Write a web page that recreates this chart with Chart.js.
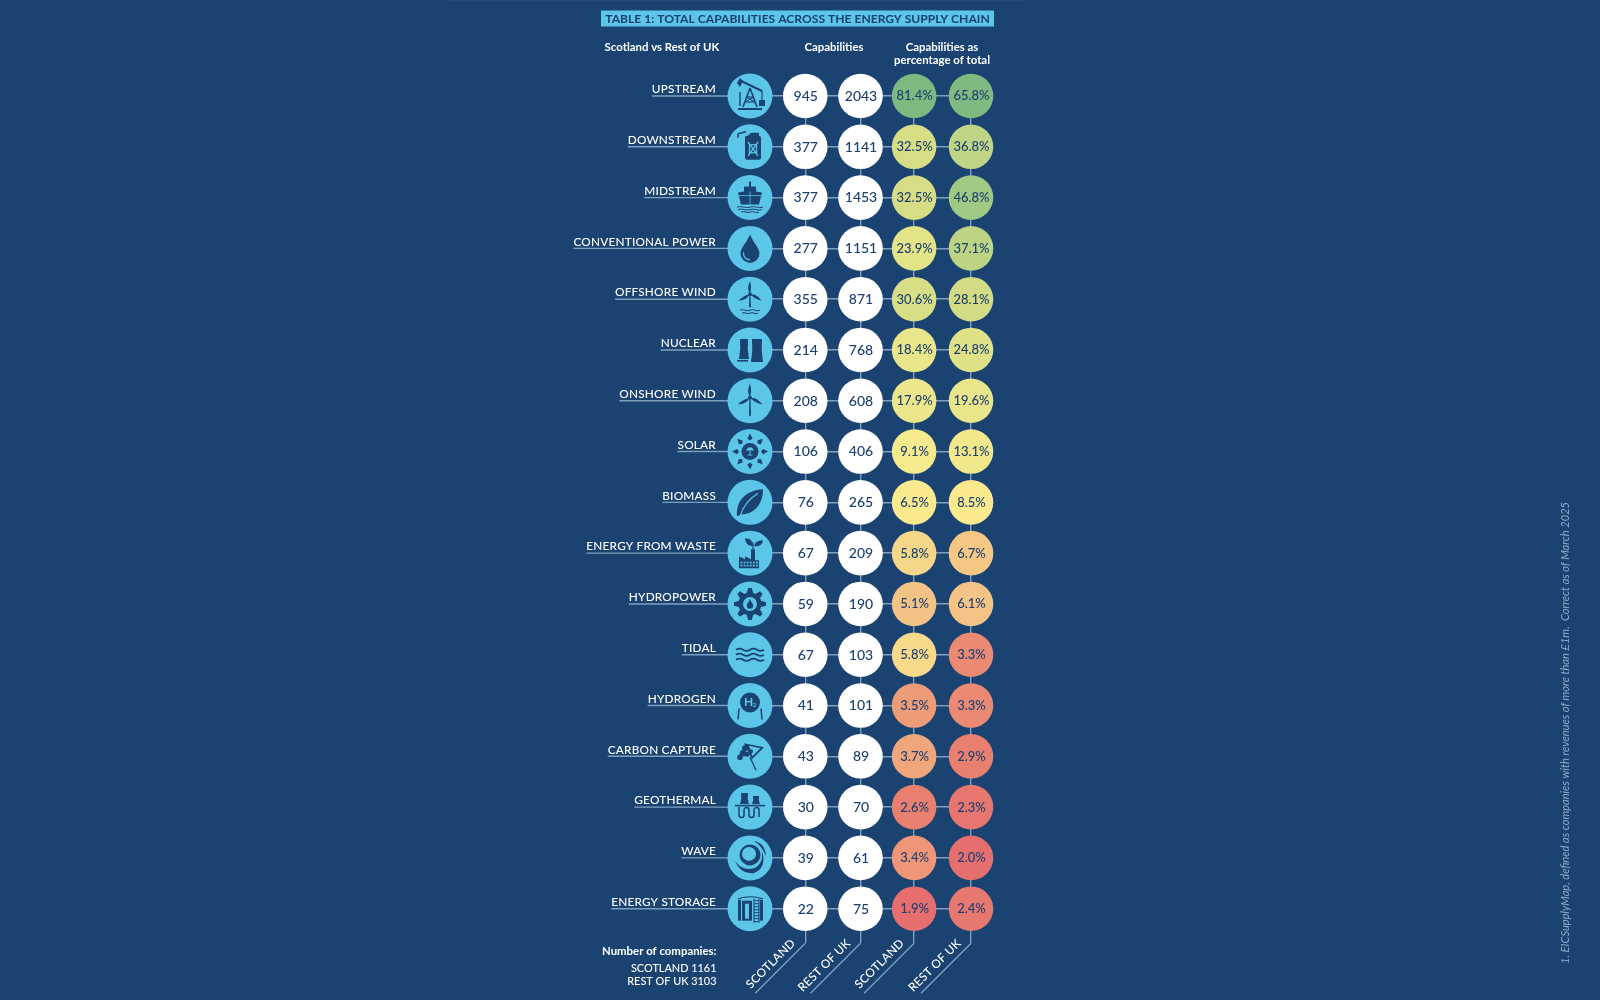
<!DOCTYPE html>
<html>
<head>
<meta charset="utf-8">
<title>Total capabilities across the energy supply chain</title>
<script src="https://cdn.jsdelivr.net/npm/chart.js@4/dist/chart.umd.js"></script>
<style>
  html, body { margin: 0; padding: 0; background: #1a4371; }
  canvas { display: block; }
</style>
</head>
<body>
<canvas id="chart" width="1600" height="1000"></canvas>
<script>
// ===============================
// DATA
// ===============================

const sectors = [
  "UPSTREAM", "DOWNSTREAM", "MIDSTREAM", "CONVENTIONAL POWER", "OFFSHORE WIND",
  "NUCLEAR", "ONSHORE WIND", "SOLAR", "BIOMASS", "ENERGY FROM WASTE",
  "HYDROPOWER", "TIDAL", "HYDROGEN", "CARBON CAPTURE", "GEOTHERMAL",
  "WAVE", "ENERGY STORAGE"
];

const columnTitles = ["", "SCOTLAND", "REST OF UK", "SCOTLAND", "REST OF UK"];

const scotlandCount = [945, 377, 377, 277, 355, 214, 208, 106, 76, 67, 59, 67, 41, 43, 30, 39, 22];
const restCount = [2043, 1141, 1453, 1151, 871, 768, 608, 406, 265, 209, 190, 103, 101, 89, 70, 61, 75];
const scotlandPct = [81.4, 32.5, 32.5, 23.9, 30.6, 18.4, 17.9, 9.1, 6.5, 5.8, 5.1, 5.8, 3.5, 3.7, 2.6, 3.4, 1.9];
const restPct = [65.8, 36.8, 46.8, 37.1, 28.1, 24.8, 19.6, 13.1, 8.5, 6.7, 6.1, 3.3, 3.3, 2.9, 2.3, 2.0, 2.4];

const scotlandPctColors = [
  "#7dba80", "#d6dd85", "#d6dd85", "#e3e388", "#d8de85", "#e9e58a", "#ebe68b", "#f6ea8e", "#fbe98e",
  "#f6d688", "#f2c384", "#f8da8a", "#ee9b77", "#f0a67b", "#e9806f", "#ee9677", "#e66e6e"
];
const restPctColors = [
  "#7fbb81", "#bfd585", "#a0ca83", "#bcd484", "#d3dc85", "#dfe187", "#e9e58a", "#f1e88c", "#fbe98e",
  "#f5c785", "#f3c485", "#ea8a72", "#ea8a72", "#e97f6f", "#e6766f", "#e56f6e", "#e7786f"
];

const titleText = "TABLE 1: TOTAL CAPABILITIES ACROSS THE ENERGY SUPPLY CHAIN";
const footnote = "1. EICSupplyMap, defined as companies with revenues of more than £1m.  Correct as of March 2025";

// ===============================
// CONFIG
// ===============================

const bg = "#1a4371";
const sky = "#5bc6e8";
const ink = "#1b3f6f";
const lineColor = "#7f9fbf";
const fontName = "Lato, 'Open Sans', sans-serif";

// the columns are not quite evenly spaced in the table
const columnSpots = [0, 1, 2, 2.97, 4];

const tickDrop = 34.6;

function columnPoints(col) {
  return sectors.map(name => ({ x: columnSpots[col], y: name }));
}

// ===============================
// ICONS
// ===============================

function poly(c, pts) {
  c.beginPath();
  pts.forEach((p, i) => i ? c.lineTo(p[0], p[1]) : c.moveTo(p[0], p[1]));
  c.closePath();
  c.fill();
}

function seg(c, x1, y1, x2, y2, w) {
  c.lineWidth = w;
  c.beginPath();
  c.moveTo(x1, y1);
  c.lineTo(x2, y2);
  c.stroke();
}

function dot(c, x, y, r) {
  c.beginPath();
  c.arc(x, y, r, 0, Math.PI * 2);
  c.fill();
}

function wave(c, x1, x2, y, amp, w) {
  const step = (x2 - x1) / 4;
  c.lineWidth = w;
  c.beginPath();
  c.moveTo(x1, y);
  for (let i = 0; i < 4; i++) {
    const dir = i % 2 ? 1 : -1;
    c.quadraticCurveTo(x1 + step * (i + 0.5), y + dir * amp, x1 + step * (i + 1), y);
  }
  c.stroke();
}

function blade(c, hy, len, angle) {
  c.save();
  c.translate(0, hy);
  c.rotate(angle);
  c.beginPath();
  c.moveTo(0, -1);
  c.bezierCurveTo(-3.2, -len * 0.35, -1.6, -len * 0.75, 0, -len);
  c.bezierCurveTo(1.2, -len * 0.7, 1.6, -len * 0.35, 0, -1);
  c.fill();
  c.restore();
}

function turbine(c, hy, len, bottom) {
  blade(c, hy, len, 0);
  blade(c, hy, len, Math.PI * 0.66);
  blade(c, hy, len, -Math.PI * 0.66);
  poly(c, [[-0.6, hy + 2], [0.6, hy + 2], [1, bottom], [-1, bottom]]);
  dot(c, 0, hy, 2);
}

function coolingTower(c, x, top, w, bottom) {
  c.beginPath();
  c.moveTo(x + 1, top);
  c.lineTo(x + w - 1, top);
  c.quadraticCurveTo(x + w - 2, (top + bottom) / 2, x + w, bottom);
  c.lineTo(x, bottom);
  c.quadraticCurveTo(x + 2, (top + bottom) / 2, x + 1, top);
  c.fill();
}

const iconDrawers = [
  // upstream
  c => {
    seg(c, -11, -16, 12, -5, 2);
    poly(c, [[-13, -13], [-10, -18], [-7, -15], [-10, -9]]);
    seg(c, 0, -8, -7, 11, 1.6);
    seg(c, 0, -8, 7, 11, 1.6);
    seg(c, -4, 1, 4, 1, 1.2);
    seg(c, -5, 6, 5, 6, 1.2);
    seg(c, -4, 1, 5, 6, 1);
    seg(c, 4, 1, -5, 6, 1);
    seg(c, -12, 13, 12, 13, 2);
    seg(c, -10, -4, -10, 10, 1.4);
    seg(c, 12, -5, 12, 4, 1.2);
    c.fillRect(9, 4, 6, 6);
  },
  // downstream
  c => {
    c.beginPath();
    c.roundRect(-5, -11, 16, 24, 2);
    c.fill();
    poly(c, [[-5, -8], [1, -14], [9, -14], [9, -11], [-5, -7]]);
    seg(c, -12, -13, -4, -15, 1.5);
    seg(c, -12, -13, -12, -9, 1.5);
    c.strokeStyle = sky;
    seg(c, -2, -5, 8, 9, 1.3);
    seg(c, 8, -5, -2, 9, 1.3);
    c.strokeRect(-0.5, -2, 7, 8);
  },
  // midstream
  c => {
    c.fillRect(-1, -16, 2, 6);
    c.fillRect(-6, -11, 12, 6);
    poly(c, [[-12, -5], [0, -7], [12, -5], [9, 7], [-9, 7]]);
    c.strokeStyle = sky;
    seg(c, 0, -6, 0, 7, 0.8);
    seg(c, -11, -2, 11, -2, 0.8);
    c.strokeStyle = bg;
    wave(c, -13, 13, 9.5, 1, 1);
    wave(c, -12, 12, 12, 1, 1);
    wave(c, -9, 9, 14.5, 1, 1);
  },
  // conventional power
  c => {
    c.beginPath();
    c.moveTo(0, -14);
    c.bezierCurveTo(3, -6, 9.5, -1, 9.5, 5);
    c.arc(0, 5, 9.5, 0, Math.PI);
    c.bezierCurveTo(-9.5, -1, -3, -6, 0, -14);
    c.fill();
    c.strokeStyle = sky;
    c.lineWidth = 1.2;
    c.beginPath();
    c.arc(0, 5, 6.5, Math.PI * 0.5, Math.PI * 1.05);
    c.stroke();
  },
  // offshore wind
  c => {
    turbine(c, -5, 13, 8);
    wave(c, -10, 10, 11, 1.2, 1);
    wave(c, -8, 8, 14, 1.2, 1);
  },
  // nuclear
  c => {
    coolingTower(c, -11, -11, 10, 9);
    coolingTower(c, 1, -11, 12, 12);
    c.fillRect(-13, 10, 11, 1.6);
  },
  // onshore wind
  c => {
    turbine(c, -3, 14, 15);
  },
  // solar
  c => {
    for (let i = 0; i < 8; i++) {
      c.save();
      c.rotate(i * Math.PI / 4);
      poly(c, [[-2.6, -13], [0, -18], [2.6, -13], [0, -11]]);
      c.restore();
    }
    dot(c, 0, 0, 8.5);
    c.fillStyle = sky;
    poly(c, [[-4, -1], [-2, -4], [2, -4], [4, -1]]);
    c.fillRect(-0.5, -1, 1, 4);
    c.fillRect(-2.5, 3, 5, 1);
  },
  // biomass
  c => {
    c.beginPath();
    c.moveTo(-13, 14);
    c.bezierCurveTo(-14, -2, -4, -12, 13, -13);
    c.bezierCurveTo(13, 2, 4, 12, -8, 12);
    c.closePath();
    c.fill();
    c.strokeStyle = sky;
    c.lineWidth = 1.2;
    c.beginPath();
    c.moveTo(-10, 14);
    c.quadraticCurveTo(-6, 0, 8, -9);
    c.stroke();
  },
  // energy from waste
  c => {
    poly(c, [[-11, 15], [-11, 3], [-5, 6], [-5, 3], [1, 6], [1, -4], [5, -4], [5, 7], [9, 7], [9, 15]]);
    seg(c, 3, -4, 3, -11, 1.2);
    c.beginPath();
    c.moveTo(3, -7);
    c.quadraticCurveTo(-5, -8, -5, -15);
    c.quadraticCurveTo(3, -15, 3, -7);
    c.fill();
    c.beginPath();
    c.moveTo(4, -7);
    c.quadraticCurveTo(5, -13, 13, -13);
    c.quadraticCurveTo(12, -6, 4, -7);
    c.fill();
    c.fillStyle = sky;
    for (let r = 0; r < 2; r++) {
      for (let k = 0; k < 6; k++) {
        c.fillRect(-9.5 + k * 3.1, 8.5 + r * 3, 1.8, 1.8);
      }
    }
  },
  // hydropower
  c => {
    for (let i = 0; i < 8; i++) {
      c.save();
      c.rotate(i * Math.PI / 4);
      poly(c, [[-3.4, -10], [-1.8, -16], [1.8, -16], [3.4, -10]]);
      c.restore();
    }
    dot(c, 0, 0, 11.5);
    c.fillStyle = sky;
    dot(c, 0, 0, 7);
    c.fillStyle = bg;
    c.beginPath();
    c.moveTo(0, -5);
    c.bezierCurveTo(1, -2, 3.2, -0.5, 3.2, 1.5);
    c.arc(0, 1.5, 3.2, 0, Math.PI);
    c.bezierCurveTo(-3.2, -0.5, -1, -2, 0, -5);
    c.fill();
  },
  // tidal
  c => {
    wave(c, -14, 14, -5, 2.2, 1.8);
    wave(c, -14, 14, 0, 2.2, 1.8);
    wave(c, -14, 14, 5, 2.2, 1.8);
  },
  // hydrogen
  c => {
    dot(c, 0, -3, 10);
    seg(c, -11, 3, -12, 14, 1.5);
    seg(c, 11, 3, 12, 14, 1.5);
    c.fillStyle = sky;
    c.textAlign = "center";
    c.textBaseline = "middle";
    c.font = "700 12px " + fontName;
    c.fillText("H", -1.5, -3);
    c.font = "700 6px " + fontName;
    c.fillText("2", 4.5, 0);
  },
  // carbon capture
  c => {
    poly(c, [[-6, -13], [14, -9], [2, 3]]);
    seg(c, 0, 1, 6, 14, 1.4);
    c.fillStyle = sky;
    poly(c, [[-1, -10.5], [10.5, -8], [2.5, 0]]);
    c.fillStyle = bg;
    dot(c, -5, -8, 3);
    dot(c, -7, -3, 3.2);
    dot(c, -10, 1, 2.8);
    dot(c, -3, -2, 2.5);
    dot(c, 1, -5, 2);
  },
  // geothermal
  c => {
    coolingTower(c, -10, -14, 9, -3);
    coolingTower(c, 2, -11, 8, -3);
    seg(c, -15, -1.5, 15, -1.5, 1.6);
    c.lineWidth = 1.5;
    c.beginPath();
    c.moveTo(-11, 0);
    c.lineTo(-11, 8);
    c.arc(-8.5, 8, 2.5, Math.PI, 0, true);
    c.lineTo(-6, 3);
    c.arc(-3.5, 3, 2.5, Math.PI, 0);
    c.lineTo(-1, 8);
    c.arc(1.5, 8, 2.5, Math.PI, 0, true);
    c.lineTo(4, 3);
    c.arc(6.5, 3, 2.5, Math.PI, 0);
    c.lineTo(9, 10);
    c.stroke();
  },
  // wave
  c => {
    c.beginPath();
    c.arc(0, -3, 10.5, 0, Math.PI * 2);
    c.arc(-1, -4, 7, 0, Math.PI * 2, true);
    c.fill("evenodd");
    c.beginPath();
    c.moveTo(-15, 3);
    c.quadraticCurveTo(-7, 14, 5, 10);
    c.quadraticCurveTo(13, 6, 12, -7);
    c.quadraticCurveTo(17, 10, 4, 15);
    c.quadraticCurveTo(-9, 17, -15, 3);
    c.fill();
    c.beginPath();
    c.moveTo(4, -17);
    c.quadraticCurveTo(15, -15, 16, -2);
    c.quadraticCurveTo(12, -12, 4, -17);
    c.fill();
    c.strokeStyle = sky;
    c.lineWidth = 1;
    c.beginPath();
    c.arc(0, -3, 12.2, Math.PI * 0.1, Math.PI * 0.8);
    c.stroke();
  },
  // energy storage
  c => {
    c.fillRect(-12, -9, 3, 21);
    c.fillRect(-8, -8, 10, 20);
    c.fillRect(10, -9, 3, 21);
    c.fillStyle = sky;
    c.fillRect(-5, -5, 4, 15);
    c.fillStyle = bg;
    c.lineWidth = 1.1;
    c.beginPath();
    c.moveTo(-12, -10);
    c.quadraticCurveTo(0, -14, 13, -10);
    c.stroke();
    seg(c, 4, -10, 4, 14, 1.1);
    seg(c, 9, -10, 9, 14, 1.1);
    for (let k = 0; k < 8; k++) {
      seg(c, 4, -8 + k * 3, 9, -8 + k * 3, 1);
    }
  }
];

// ===============================
// PLUGINS
// ===============================

const spacingPlugin = {
  id: "spacing",
  beforeDraw(chart) {
    chart.ctx.letterSpacing = "0.2px";
  }
};

// the rules under the sector names and the slanted rules under the columns
const rulesPlugin = {
  id: "rules",
  beforeDatasetsDraw(chart) {
    const c = chart.ctx;
    const yScale = chart.scales.y;
    const xScale = chart.scales.x;
    c.save();
    c.strokeStyle = lineColor;
    c.lineWidth = 1.4;
    c.font = yScale.options.ticks.font.weight + " " + yScale.options.ticks.font.size + "px " + fontName;
    sectors.forEach((name, i) => {
      const y = yScale.getPixelForValue(i);
      const left = xScale.left - yScale.options.ticks.padding - c.measureText(name).width;
      c.beginPath();
      c.moveTo(left, y);
      c.lineTo(xScale.left, y);
      c.stroke();
    });
    columnSpots.forEach((spot, i) => {
      if (i === 0) return;
      const x = xScale.getPixelForValue(spot);
      const y = xScale.top + tickDrop;
      c.beginPath();
      c.moveTo(x, y);
      c.lineTo(x - 50, y + 50);
      c.stroke();
    });
    c.restore();
  }
};

// numbers inside the circles and icons in the first column
const circleTextPlugin = {
  id: "circleText",
  afterDatasetsDraw(chart) {
    const c = chart.ctx;
    c.save();
    c.letterSpacing = "0px";
    c.textAlign = "center";
    c.textBaseline = "middle";
    c.fillStyle = ink;

    chart.data.datasets.forEach((ds, d) => {
      const points = chart.getDatasetMeta(d).data;
      points.forEach((pt, i) => {
        if (d === 0) {
          c.save();
          c.translate(pt.x, pt.y);
          c.fillStyle = bg;
          c.strokeStyle = bg;
          iconDrawers[i](c);
          c.restore();
          return;
        }
        c.font = "500 " + (d < 3 ? 14 : 13) + "px " + fontName;
        const value = d < 3 ? ds.values[i] : ds.values[i].toFixed(1) + "%";
        c.fillText(value, pt.x + 0.5, pt.y + 0.3);
      });
    });
    c.restore();
  }
};

// title strip, column headings, company counts and footnote
const pageTextPlugin = {
  id: "pageText",
  afterDraw(chart) {
    const c = chart.ctx;
    c.save();
    c.letterSpacing = "0px";

    c.fillStyle = "#234b78";
    c.fillRect(446, 0, 577, 1);

    c.fillStyle = sky;
    c.fillRect(601, 10.5, 393, 16);
    c.fillStyle = ink;
    c.textAlign = "center";
    c.textBaseline = "middle";
    c.font = "700 12.1px " + fontName;
    c.fillText(titleText, 797.5, 19);

    c.fillStyle = "#ffffff";
    c.font = "700 11.4px " + fontName;
    c.fillText("Scotland vs Rest of UK", 662, 47);
    c.fillText("Capabilities", 834, 47);
    c.fillText("Capabilities as", 942, 47);
    c.fillText("percentage of total", 942, 60);

    c.textAlign = "right";
    c.fillText("Number of companies:", 716.5, 951);
    c.font = "500 10.9px " + fontName;
    c.fillText("SCOTLAND 1161", 716.5, 968);
    c.fillText("REST OF UK 3103", 716.5, 981);

    c.translate(1565, 733);
    c.rotate(-Math.PI / 2);
    c.textAlign = "center";
    c.fillStyle = "#8fabc8";
    c.font = "italic 400 11.1px " + fontName;
    c.fillText(footnote, 0, 0);
    c.restore();
  }
};

// ===============================
// CHART
// ===============================

const circle = { clip: false, pointRadius: 22.3, pointBorderWidth: 0, pointHoverRadius: 22.3 };

new Chart(document.getElementById("chart"), {
  type: "scatter",
  data: {
    datasets: [
      { ...circle, label: "Sector", data: columnPoints(0), backgroundColor: sky, pointRadius: 22.5 },
      { ...circle, label: "Capabilities, Scotland", data: columnPoints(1), values: scotlandCount, backgroundColor: "#ffffff" },
      { ...circle, label: "Capabilities, Rest of UK", data: columnPoints(2), values: restCount, backgroundColor: "#ffffff" },
      { ...circle, label: "Percentage, Scotland", data: columnPoints(3), values: scotlandPct, backgroundColor: scotlandPctColors },
      { ...circle, label: "Percentage, Rest of UK", data: columnPoints(4), values: restPct, backgroundColor: restPctColors }
    ]
  },
  options: {
    responsive: false,
    animation: false,
    events: [],
    layout: { padding: { top: 96, right: 629, left: 0, bottom: 0 } },
    plugins: { legend: { display: false }, tooltip: { enabled: false } },
    scales: {
      x: {
        type: "linear",
        min: 0,
        max: 4,
        border: { display: false },
        afterFit(scale) { scale.height = 91.3; },
        afterBuildTicks(scale) { scale.ticks = columnSpots.map(value => ({ value })); },
        grid: {
          color: ctx => ctx.index === 0 ? "rgba(0,0,0,0)" : lineColor,
          lineWidth: 1.4,
          drawTicks: true,
          tickLength: tickDrop,
          tickColor: ctx => ctx.index === 0 ? "rgba(0,0,0,0)" : lineColor,
          tickWidth: 1.4
        },
        ticks: {
          autoSkip: false,
          minRotation: 45,
          maxRotation: 45,
          padding: -7,
          labelOffset: -12,
          color: "#ffffff",
          font: { family: fontName, size: 11.8, weight: 500 },
          callback: (value, index) => columnTitles[index]
        }
      },
      y: {
        type: "category",
        labels: sectors,
        offset: false,
        border: { display: false },
        afterFit(scale) { scale.width = 750; },
        grid: { color: lineColor, lineWidth: 1.4, drawTicks: false },
        ticks: {
          autoSkip: false,
          padding: 34,
          labelOffset: -6.5,
          color: "#ffffff",
          font: { family: fontName, size: 11.8, weight: 500 }
        }
      }
    }
  },
  plugins: [spacingPlugin, rulesPlugin, circleTextPlugin, pageTextPlugin]
});
</script>
</body>
</html>
